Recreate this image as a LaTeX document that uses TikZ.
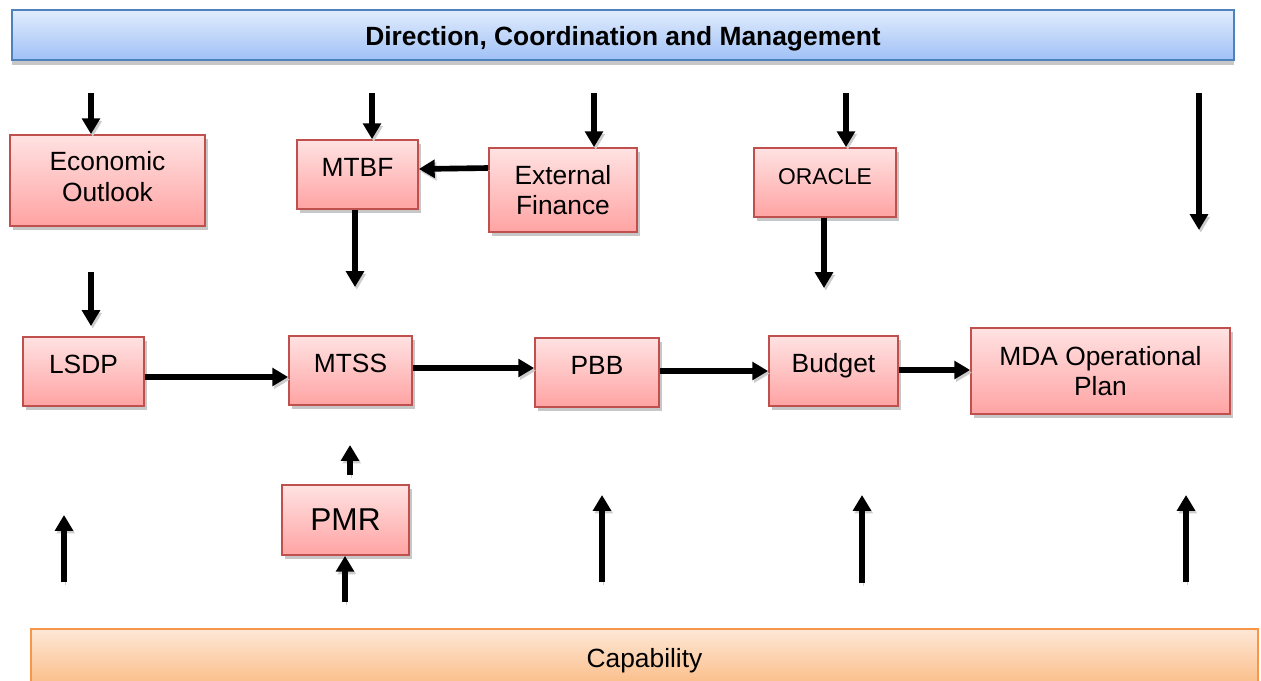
\documentclass[tikz,border=0pt]{standalone}
\usepackage{fontspec}
\setmainfont{Liberation Sans}
\usetikzlibrary{arrows.meta,shadows}

\definecolor{boxline}{HTML}{C0504D}
\definecolor{boxtop}{HTML}{FFE2E2}
\definecolor{boxbot}{HTML}{FFA3A3}
\definecolor{hdline}{HTML}{4F81BD}
\definecolor{hdtop}{HTML}{E1ECFD}
\definecolor{hdbot}{HTML}{A0C1F6}
\definecolor{capline}{HTML}{F79646}
\definecolor{captop}{HTML}{FEE8D7}
\definecolor{capbot}{HTML}{FBBD88}

\tikzset{
  stage/.style={draw=boxline, line width=1pt, top color=boxtop, bottom color=boxbot,
    font=\fontsize{15}{17.5}\selectfont, align=center, inner sep=0pt,
    drop shadow={shadow xshift=1.5pt, shadow yshift=-2pt, fill=black!22, opacity=1}},
  oneline/.style={text height=11pt, text depth=9pt},
  band/.style={line width=1pt, inner sep=0pt, font=\fontsize{15}{17.5}\selectfont,
    text height=14.4pt, text depth=3pt},
  flow/.style={line width=3.2pt, -{Triangle[length=9pt,width=10pt]},
    preaction={draw=black!20, transform canvas={shift={(1pt,-1.5pt)}}}}
}

\begin{document}
\begin{tikzpicture}[x=0.02cm, y=-0.02cm]
\useasboundingbox (0,0) rectangle (1261,680);

% top and bottom bands
\node[band, draw=hdline, top color=hdtop, bottom color=hdbot, font=\fontsize{15}{17.5}\selectfont\bfseries,
  minimum width=24.44cm, minimum height=1cm,
  drop shadow={shadow xshift=0pt, shadow yshift=-3pt, fill=black!22, opacity=1}] (dcm) at (623,35) {Direction, Coordination and Management};
\node[band, draw=capline, top color=captop, bottom color=capbot,
  minimum width=24.54cm, minimum height=1.12cm] (cap) at (644.5,657) {Capability};

% boxes
\node[stage, minimum width=3.9cm, minimum height=1.82cm] (eco) at (107.5,180.5) {Economic\\Outlook\\[-12.9pt]\mbox{}};
\node[stage, oneline, minimum width=2.42cm, minimum height=1.38cm] (mtbf) at (357.5,174.5) {MTBF};
\node[stage, minimum width=2.96cm, minimum height=1.68cm] (ext) at (563,190) {External\\Finance};
\node[stage, oneline, font=\fontsize{13}{15}\selectfont, minimum width=2.84cm, minimum height=1.38cm] (oracle) at (825,182.5) {ORACLE};

\node[stage, oneline, minimum width=2.42cm, minimum height=1.38cm] (lsdp) at (83.5,371.5) {LSDP};
\node[stage, oneline, minimum width=2.46cm, minimum height=1.38cm] (mtss) at (350.5,370.5) {MTSS};
\node[stage, oneline, minimum width=2.48cm, minimum height=1.38cm] (pbb) at (597,372.5) {PBB};
\node[stage, oneline, minimum width=2.58cm, minimum height=1.4cm] (budget) at (833.5,371) {Budget};
\node[stage, minimum width=5.18cm, minimum height=1.72cm] (mda) at (1100.5,371) {MDA Operational\\Plan};

\node[stage, font=\fontsize{18}{21}\selectfont, minimum width=2.54cm, minimum height=1.4cm] (pmr) at (345.5,520) {PMR};

% loose arrow ends
\coordinate (d1) at (91,93);
\coordinate (d2) at (372,93);
\coordinate (d3) at (594,93);
\coordinate (d4) at (846,93);
\coordinate (d5) at (1199,93);
\coordinate (d5e) at (1199,230);
\coordinate (mtbfe) at (355,287);
\coordinate (oraclee) at (824,288);
\coordinate (ecoa) at (91,272);
\coordinate (ecoe) at (91,326);
\coordinate (pmra) at (350,475);
\coordinate (pmre) at (350,445);
\coordinate (pmrb) at (345,602);
\coordinate (u1) at (64,582);
\coordinate (u1e) at (64,515);
\coordinate (u2) at (602,582);
\coordinate (u2e) at (602,495);
\coordinate (u3) at (862,583);
\coordinate (u3e) at (862,495);
\coordinate (u4) at (1186,582);
\coordinate (u4e) at (1186,495);

\draw[flow] (d1) -- (d1 |- eco.north);
\draw[flow] (d2) -- (d2 |- mtbf.north);
\draw[flow] (d3) -- (d3 |- ext.north);
\draw[flow] (d4) -- (d4 |- oracle.north);
\draw[flow] (mtbfe |- mtbf.south) -- (mtbfe);
\draw[flow] (oraclee |- oracle.south) -- (oraclee);
\draw[flow] (ext.west |- 0,168) -- (mtbf.east |- 0,169);
\draw[flow] (pmrb) -- (pmrb |- pmr.south);

\foreach \from/\to in {d5/d5e,ecoa/ecoe,pmra/pmre,u1/u1e,u2/u2e,u3/u3e,u4/u4e}
  \draw[flow] (\from) -- (\to);

\draw[flow] (lsdp.east |- 0,377) -- (mtss.west |- 0,377);
\draw[flow] (mtss.east |- 0,368) -- (pbb.west |- 0,368);
\draw[flow] (pbb.east |- 0,371) -- (budget.west |- 0,371);
\draw[flow] (budget.east |- 0,370) -- (mda.west |- 0,370);
\end{tikzpicture}
\end{document}
